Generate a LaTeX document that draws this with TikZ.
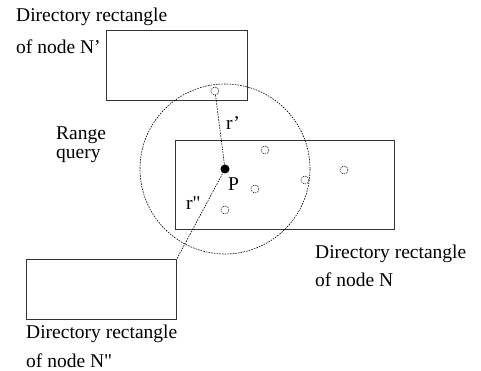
\documentclass[tikz,border=0pt]{standalone}
\usepackage{fontspec}
\setmainfont{Liberation Serif}[Ligatures=TeXOff]
\begin{document}
\begin{tikzpicture}[x=1pt,y=-1pt,
  rectbox/.style={draw=black!80, line width=0.8pt, inner sep=0pt, anchor=north west},
  lbl/.style={anchor=base west, inner sep=0pt, font=\fontsize{19.5}{24}\selectfont},
  entry/.style={circle, draw=black, line width=0.5pt, dash pattern=on 1.3pt off 1pt, minimum size=8pt, inner sep=0pt},
  rangeline/.style={black, line width=0.6pt, dash pattern=on 1.6pt off 1.1pt}]
\useasboundingbox (0,0) rectangle (481,371);
% directory rectangles
\node[rectbox, minimum width=141pt, minimum height=70pt] (Np) at (106,30) {};
\node[rectbox, minimum width=219pt, minimum height=89pt] (N) at (175,140) {};
\node[rectbox, minimum width=150pt, minimum height=60pt] (Npp) at (26,259) {};
% query point and range
\node[circle, fill=black, minimum size=9pt, inner sep=0pt] (P) at (225,169) {};
\draw[rangeline] (P.center) circle[radius=85];
% entries
\node[entry] (c1) at (215,91) {};
\node[entry] (c2) at (265,150) {};
\node[entry] (c3) at (255,189) {};
\node[entry] (c4) at (225,210) {};
\node[entry] (c5) at (305,180) {};
\node[entry] (c6) at (344,170) {};
% distances
\draw[rangeline] (P.center) -- (c1);
\draw[rangeline] (P.center) -- (Npp.north east);
% labels
\node[lbl] (lr1) at (226,130) {r’};
\node[lbl] (lP) at (228,190) {P};
\node[lbl] (lr2) at (186,210) {r"};
\node[lbl] (t1a) at (16,22) {Directory rectangle};
\node[lbl] (t1b) at (16,54) {of node N’};
\node[lbl] (t2a) at (315,258) {Directory rectangle};
\node[lbl] (t2b) at (315,286) {of node N};
\node[lbl] (t3a) at (26,338) {Directory rectangle};
\node[lbl] (t3b) at (26,367) {of node N"};
\node[lbl] (tq1) at (56,140) {Range};
\node[lbl] (tq2) at (56,159) {query};
\end{tikzpicture}
\end{document}
